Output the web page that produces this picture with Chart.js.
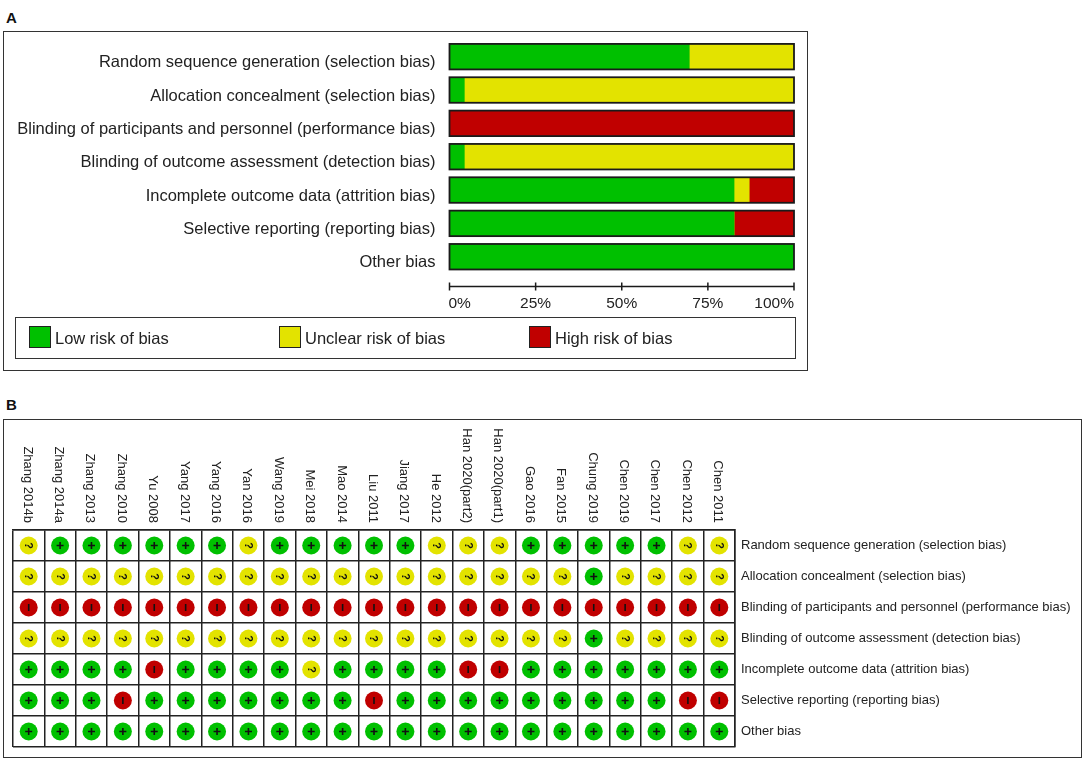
<!DOCTYPE html>
<html>
<head>
<meta charset="utf-8">
<script src="https://cdn.jsdelivr.net/npm/chart.js@4.4.1/dist/chart.umd.min.js"></script>
<style>
  body { margin: 0; background: #fff; font-family: 'Liberation Sans', Arial, sans-serif; color: #222; }
  #page { position: relative; width: 1084px; height: 762px; overflow: hidden; }
  .tag { position: absolute; font-weight: bold; font-size: 15px; color: #111; }
  .frame { position: absolute; border: 1.5px solid #333; box-sizing: border-box; }
  canvas { position: absolute; }
  .key { position: absolute; top: 8px; height: 22px; line-height: 22px; font-size: 16.5px; }
  .key span { position: absolute; left: 0; top: 0; width: 22px; height: 22px; box-sizing: border-box; border: 1.5px solid #222; }
  .key b { font-weight: normal; position: absolute; left: 26px; top: 1px; white-space: nowrap; }
</style>
</head>
<body>
<div id="page">
  <div class="tag" style="left:6px; top:9px;">A</div>
  <div class="frame" style="left:3px; top:31px; width:805px; height:340px;"></div>
  <canvas id="summary" width="800" height="290" style="left:4px; top:32px; width:800px; height:290px;"></canvas>
  <div class="frame" id="legend" style="left:15px; top:317px; width:781px; height:42px;"></div>

  <div class="tag" style="left:6px; top:396px;">B</div>
  <div class="frame" style="left:3px; top:419px; width:1079px; height:339px;"></div>
  <canvas id="grid" width="1076" height="336" style="left:4px; top:420px; width:1076px; height:336px;"></canvas>
</div>

<script>
// ---- data ----
const domains = [
  'Random sequence generation (selection bias)',
  'Allocation concealment (selection bias)',
  'Blinding of participants and personnel (performance bias)',
  'Blinding of outcome assessment (detection bias)',
  'Incomplete outcome data (attrition bias)',
  'Selective reporting (reporting bias)',
  'Other bias'
];
const lowPct     = [69.6, 4.3,   0, 4.3, 82.6, 82.6, 100];
const unclearPct = [30.4, 95.7,  0, 95.7, 4.4,    0,   0];
const highPct    = [   0,    0, 100,   0, 13.0, 17.4,   0];
const tickValues = [0, 25, 50, 75, 100];

const studies = [
  'Zhang 2014b', 'Zhang 2014a', 'Zhang 2013', 'Zhang 2010', 'Yu 2008', 'Yang 2017',
  'Yang 2016', 'Yan 2016', 'Wang 2019', 'Mei 2018', 'Mao 2014', 'Liu 2011',
  'Jiang 2017', 'He 2012', 'Han 2020(part2)', 'Han 2020(part1)', 'Gao 2016',
  'Fan 2015', 'Chung 2019', 'Chen 2019', 'Chen 2017', 'Chen 2012', 'Chen 2011'
];
const randomSeq    = ['?','+','+','+','+','+','+','?','+','+','+','+','+','?','?','?','+','+','+','+','+','?','?'];
const allocation   = ['?','?','?','?','?','?','?','?','?','?','?','?','?','?','?','?','?','?','+','?','?','?','?'];
const blindPart    = ['-','-','-','-','-','-','-','-','-','-','-','-','-','-','-','-','-','-','-','-','-','-','-'];
const blindOutcome = ['?','?','?','?','?','?','?','?','?','?','?','?','?','?','?','?','?','?','+','?','?','?','?'];
const incomplete   = ['+','+','+','+','-','+','+','+','+','?','+','+','+','+','-','-','+','+','+','+','+','+','+'];
const selective    = ['+','+','+','-','+','+','+','+','+','+','+','-','+','+','+','+','+','+','+','+','+','-','-'];
const otherBias    = ['+','+','+','+','+','+','+','+','+','+','+','+','+','+','+','+','+','+','+','+','+','+','+'];
const judgements = [randomSeq, allocation, blindPart, blindOutcome, incomplete, selective, otherBias];

const riskLabels = ['Low risk of bias', 'Unclear risk of bias', 'High risk of bias'];

// ---- look ----
const GREEN = '#00c000', YELLOW = '#e3e300', RED = '#c00000';
const colourOf = { '+': GREEN, '?': YELLOW, '-': RED };
const FONT = "'Liberation Sans', Arial, sans-serif";
const BAR_H = 25.5;

// legend (html)
const legendBox = document.getElementById('legend');
[GREEN, YELLOW, RED].forEach((c, i) => {
  const item = document.createElement('div');
  item.className = 'key';
  item.style.left = (13 + i * 250) + 'px';
  item.innerHTML = `<span style="background:${c}"></span><b>${riskLabels[i]}</b>`;
  legendBox.appendChild(item);
});

// keep label half-heights from pushing the plot area in
function noLabelPadding(s) {
  s.paddingTop = 0; s.paddingBottom = 0;
  s.paddingLeft = 0; s.paddingRight = 0;
}

// outline round each full bar and the detached % axis
const barFrame = {
  id: 'barFrame',
  afterDatasetsDraw(chart) {
    const { ctx, scales: { x, y } } = chart;
    ctx.save();
    ctx.strokeStyle = '#1a1a1a';
    ctx.lineWidth = 1.8;
    domains.forEach((d, i) => {
      const cy = y.getPixelForValue(i);
      const x0 = x.getPixelForValue(0), x1 = x.getPixelForValue(100);
      ctx.strokeRect(x0, cy - BAR_H / 2, x1 - x0, BAR_H);
    });
    ctx.restore();
  },
  afterDraw(chart) {
    const { ctx, chartArea, scales: { x } } = chart;
    const ay = chartArea.bottom + 13;
    ctx.save();
    ctx.strokeStyle = '#1a1a1a';
    ctx.fillStyle = '#222';
    ctx.lineWidth = 1.5;
    ctx.beginPath();
    ctx.moveTo(x.getPixelForValue(0), ay);
    ctx.lineTo(x.getPixelForValue(100), ay);
    tickValues.forEach(v => {
      const px = x.getPixelForValue(v);
      ctx.moveTo(px, ay - 4);
      ctx.lineTo(px, ay + 4);
    });
    ctx.stroke();
    ctx.font = '15.5px ' + FONT;
    ctx.textBaseline = 'middle';
    tickValues.forEach((v, i) => {
      const px = x.getPixelForValue(v);
      ctx.textAlign = i === 0 ? 'left' : (i === tickValues.length - 1 ? 'right' : 'center');
      ctx.fillText(v + '%', i === 0 ? px - 1 : px, ay + 17);
    });
    ctx.restore();
  }
};

new Chart(document.getElementById('summary'), {
  type: 'bar',
  data: {
    labels: domains,
    datasets: [
      { label: riskLabels[0], data: lowPct, backgroundColor: GREEN },
      { label: riskLabels[1], data: unclearPct, backgroundColor: YELLOW },
      { label: riskLabels[2], data: highPct, backgroundColor: RED }
    ]
  },
  options: {
    indexAxis: 'y',
    responsive: false,
    animation: false,
    layout: { padding: { top: 8, right: 10, bottom: 48.6, left: 0 } },
    datasets: { bar: { barThickness: BAR_H, borderWidth: 0 } },
    scales: {
      x: { stacked: true, min: 0, max: 100, display: false },
      y: {
        stacked: true,
        grid: { display: false, drawTicks: false },
        border: { display: false },
        ticks: { padding: 14, labelOffset: 6, color: '#222', font: { family: FONT, size: 16.5 } },
        afterFit(s) { s.width = 445.5; noLabelPadding(s); }
      }
    },
    plugins: { legend: { display: false }, tooltip: { enabled: false } }
  },
  plugins: [barFrame]
});

// ---- panel B: traffic-light grid ----
const gridMarks = {
  id: 'gridMarks',
  afterDatasetsDraw(chart) {
    const { ctx } = chart;
    ctx.save();
    ctx.fillStyle = '#111';
    ctx.strokeStyle = '#111';
    chart.data.datasets.forEach((ds, di) => {
      chart.getDatasetMeta(di).data.forEach((pt, i) => {
        const j = judgements[di][i];
        ctx.save();
        ctx.translate(pt.x, pt.y);
        ctx.rotate(Math.PI / 2);
        if (j === '?') {
          ctx.font = 'bold 11px ' + FONT;
          ctx.textAlign = 'center';
          ctx.textBaseline = 'middle';
          ctx.fillText('?', 0, 0.5);
        } else {
          ctx.lineWidth = 1.6;
          ctx.beginPath();
          ctx.moveTo(-3.5, 0); ctx.lineTo(3.5, 0);
          if (j === '+') { ctx.moveTo(0, -3.5); ctx.lineTo(0, 3.5); }
          ctx.stroke();
        }
        ctx.restore();
      });
    });
    ctx.restore();
  },
  afterDraw(chart) {
    const { ctx, chartArea, scales: { x } } = chart;
    ctx.save();
    ctx.fillStyle = '#222';
    ctx.font = '13px ' + FONT;
    ctx.textAlign = 'right';
    ctx.textBaseline = 'middle';
    studies.forEach((s, i) => {
      ctx.save();
      ctx.translate(x.getPixelForValue(i), chartArea.top - 7);
      ctx.rotate(Math.PI / 2);
      ctx.fillText(s, 0, 1.5);
      ctx.restore();
    });
    ctx.restore();
  }
};

new Chart(document.getElementById('grid'), {
  type: 'scatter',
  data: {
    datasets: domains.map((d, di) => ({
      label: d,
      data: studies.map(s => ({ x: s, y: d })),
      pointBackgroundColor: judgements[di].map(j => colourOf[j]),
      pointBorderWidth: 0,
      pointRadius: 9,
      pointHoverRadius: 9
    }))
  },
  options: {
    responsive: false,
    animation: false,
    layout: { padding: { top: 0, right: 0, bottom: 6, left: 8 } },
    scales: {
      x: {
        type: 'category',
        labels: studies,
        position: 'top',
        offset: true,
        grid: { offset: true, color: '#222', lineWidth: 1.5, drawTicks: false },
        border: { display: true, color: '#222', width: 1.5 },
        ticks: { display: false },
        afterFit(s) { s.height = 110; noLabelPadding(s); }
      },
      y: {
        type: 'category',
        labels: domains,
        position: 'right',
        offset: true,
        grid: { offset: true, color: '#222', lineWidth: 1.5, drawTicks: false },
        border: { display: true, color: '#222', width: 1.5 },
        ticks: { padding: 6, color: '#222', font: { family: FONT, size: 13 } },
        afterFit(s) { s.width = 345; noLabelPadding(s); }
      }
    },
    plugins: { legend: { display: false }, tooltip: { enabled: false } }
  },
  plugins: [gridMarks]
});
</script>
</body>
</html>
